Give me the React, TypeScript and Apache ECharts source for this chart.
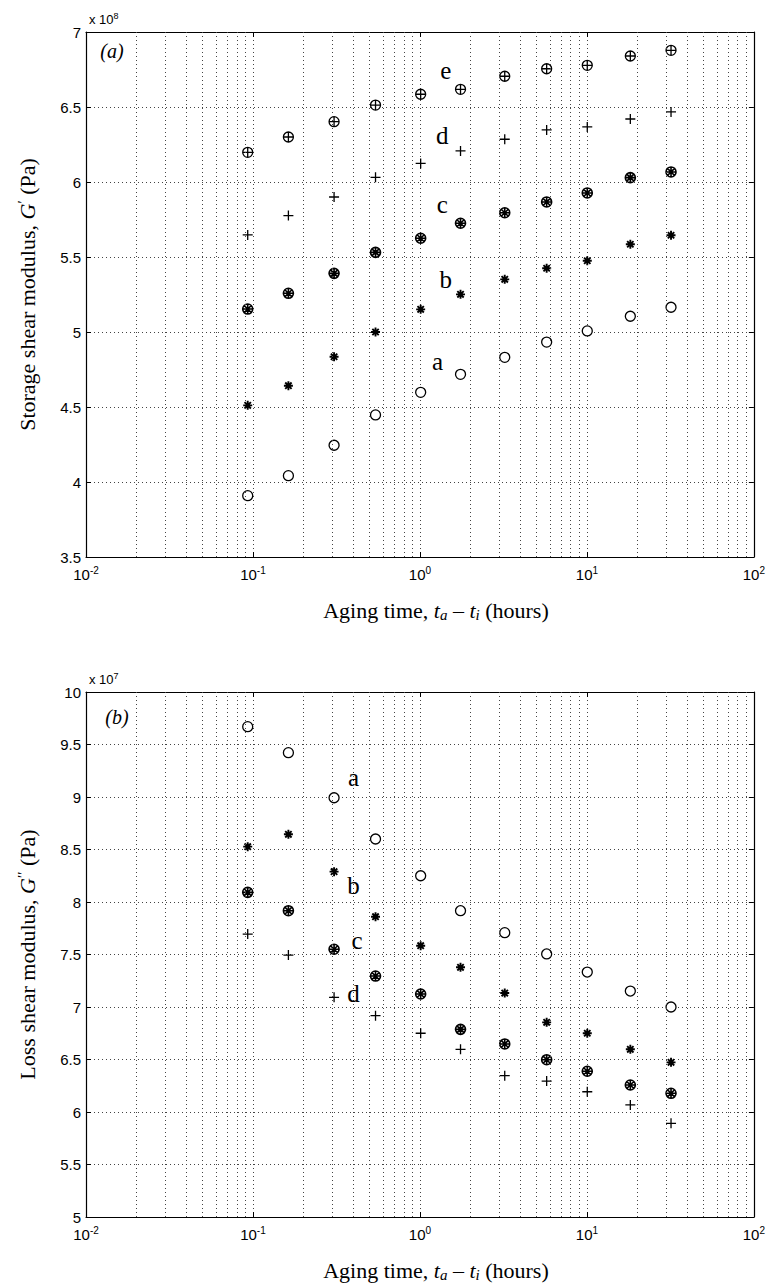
import React, { useEffect, useRef } from "react";
import * as echarts from "echarts";

// Aging time t_a - t_i (hours), shared by all series
const agingTime = [0.093, 0.163, 0.306, 0.542, 1.01, 1.75, 3.22, 5.74, 10.05, 18.2, 31.9];

// Panel (a): storage shear modulus G' (x 10^8 Pa)
const storageA = [3.909, 4.042, 4.245, 4.447, 4.598, 4.718, 4.831, 4.933, 5.007, 5.105, 5.165];
const storageB = [4.511, 4.642, 4.835, 5.0, 5.151, 5.251, 5.351, 5.425, 5.475, 5.585, 5.645];
const storageC = [5.153, 5.258, 5.391, 5.531, 5.625, 5.725, 5.795, 5.867, 5.927, 6.029, 6.067];
const storageD = [5.647, 5.776, 5.9, 6.031, 6.124, 6.207, 6.285, 6.347, 6.367, 6.42, 6.467];
const storageE = [6.198, 6.3, 6.402, 6.513, 6.585, 6.618, 6.705, 6.755, 6.778, 6.84, 6.878];

// Panel (b): loss shear modulus G'' (x 10^7 Pa)
const lossA = [9.67, 9.422, 8.993, 8.6, 8.25, 7.917, 7.708, 7.505, 7.333, 7.152, 7.0];
const lossB = [8.527, 8.645, 8.289, 7.86, 7.584, 7.378, 7.133, 6.854, 6.75, 6.597, 6.473];
const lossC = [8.092, 7.917, 7.55, 7.295, 7.124, 6.787, 6.648, 6.498, 6.388, 6.257, 6.178];
const lossD = [7.695, 7.495, 7.092, 6.917, 6.75, 6.597, 6.346, 6.295, 6.193, 6.067, 5.892];

// Curve letters placed in data coordinates
const storageLetters: [number, number, string][] = [
  [1.43, 6.742, "e"],
  [1.36, 6.313, "d"],
  [1.36, 5.853, "c"],
  [1.43, 5.347, "b"],
  [1.275, 4.802, "a"],
];
const lossLetters: [number, number, string][] = [
  [0.4, 9.188, "a"],
  [0.4, 8.155, "b"],
  [0.42, 7.638, "c"],
  [0.4, 7.13, "d"],
];

// Axis ranges / ticks
const xRange = [0.01, 100];
const storageRange = [3.5, 7];
const lossRange = [5, 10];
const yStep = 0.5;
const minorTimes = [
  0.02, 0.03, 0.04, 0.05, 0.06, 0.07, 0.08, 0.09,
  0.2, 0.3, 0.4, 0.5, 0.6, 0.7, 0.8, 0.9,
  2, 3, 4, 5, 6, 7, 8, 9,
  20, 30, 40, 50, 60, 70, 80, 90,
];

const SANS = "Liberation Sans";
const SERIF = "Liberation Serif";

const P_CIRCLE = "path://M5,0A5,5,0,1,1,-5,0A5,5,0,1,1,5,0Z";
const P_STAR = "path://M0,-5L0,5M-5,0L5,0M-3.54,-3.54L3.54,3.54M-3.54,3.54L3.54,-3.54";
const P_CSTAR =
  "path://M5,0A5,5,0,1,1,-5,0A5,5,0,1,1,5,0ZM0,-5L0,5M-5,0L5,0M-3.54,-3.54L3.54,3.54M-3.54,3.54L3.54,-3.54";
const P_PLUS = "path://M0,-5L0,5M-5,0L5,0";
const P_CPLUS = "path://M5,0A5,5,0,1,1,-5,0A5,5,0,1,1,5,0ZM0,-5L0,5M-5,0L5,0";

const dotted = { color: "#444", type: [1, 3] as any, width: 1 };

function xAxes(gridIndex: number) {
  const common = {
    gridIndex,
    type: "log" as const,
    logBase: 10,
    min: xRange[0],
    max: xRange[1],
    axisLine: { show: true, onZero: false, lineStyle: { color: "#000", width: 1.2 } },
    axisTick: { show: true, inside: true, length: 5, lineStyle: { color: "#000" } },
  };
  return [
    {
      ...common,
      position: "bottom",
      axisLabel: {
        color: "#000",
        margin: 8,
        formatter: (v: number) => `{b|10}{s|${Math.round(Math.log10(v))}}`,
        rich: {
          b: { fontSize: 15, fontFamily: SANS, color: "#000" },
          s: { fontSize: 10, fontFamily: SANS, color: "#000", verticalAlign: "top", padding: [0, 0, 9, 0] },
        },
      },
      splitLine: { show: true, lineStyle: dotted },
    },
    {
      ...common,
      position: "top",
      axisLabel: { show: false },
      splitLine: { show: false },
    },
  ];
}

function yAxes(gridIndex: number, range: number[]) {
  const common = {
    gridIndex,
    type: "value" as const,
    min: range[0],
    max: range[1],
    interval: yStep,
    axisLine: { show: true, onZero: false, lineStyle: { color: "#000", width: 1.2 } },
    axisTick: { show: true, inside: true, length: 5, lineStyle: { color: "#000" } },
  };
  return [
    {
      ...common,
      position: "left",
      axisLabel: { color: "#000", fontSize: 15, fontFamily: SANS, margin: 5 },
      splitLine: { show: true, lineStyle: dotted },
    },
    {
      ...common,
      position: "right",
      axisLabel: { show: false },
      splitLine: { show: false },
    },
  ];
}

function pts(values: number[]) {
  return agingTime.map((t, i) => [t, values[i]]);
}

function marker(
  axis: number,
  values: number[],
  symbol: string,
  size: number,
  lineWidth: number,
  extra: any = {}
) {
  return {
    type: "scatter",
    xAxisIndex: axis,
    yAxisIndex: axis,
    data: pts(values),
    symbol,
    symbolSize: size,
    silent: true,
    itemStyle: { color: "#fff", borderColor: "#000", borderWidth: lineWidth, opacity: 1 },
    z: 4,
    ...extra,
  };
}

function minorLines() {
  return {
    markLine: {
      silent: true,
      symbol: ["none", "none"],
      label: { show: false },
      lineStyle: dotted,
      data: minorTimes.map((v) => ({ xAxis: v })),
    },
  };
}

function letters(axis: number, items: [number, number, string][]) {
  return {
    type: "scatter",
    xAxisIndex: axis,
    yAxisIndex: axis,
    data: items.map((d) => [d[0], d[1], d[2]]),
    symbolSize: 1,
    silent: true,
    itemStyle: { color: "#fff", opacity: 1, borderWidth: 0 },
    label: {
      show: true,
      position: "inside",
      formatter: (p: any) => p.data[2],
      fontFamily: SERIF,
      fontSize: 25,
      color: "#000",
      opacity: 1,
      textBorderWidth: 0,
      textBorderColor: "transparent",
    },
    z: 5,
  };
}

const serifRich = {
  n: { fontFamily: SERIF, fontSize: 22, color: "#000", lineHeight: 24 },
  i: { fontFamily: SERIF, fontSize: 22, fontStyle: "italic", color: "#000", lineHeight: 24 },
  sub: { fontFamily: SERIF, fontSize: 15, fontStyle: "italic", color: "#000", lineHeight: 15, verticalAlign: "bottom", padding: [13, 0, 0, 0] },
  sup: { fontFamily: SERIF, fontSize: 15, color: "#000", lineHeight: 15, verticalAlign: "top", padding: [0, 0, 10, 0] },
};

const sansRich = {
  n: { fontFamily: SANS, fontSize: 13, color: "#000" },
  s: { fontFamily: SANS, fontSize: 9, color: "#000", verticalAlign: "top", padding: [0, 0, 7, 0] },
};

function text(x: number, y: number, t: string, rich: any, align = "center", rotation?: number) {
  const el: any = {
    type: "text",
    x,
    y,
    silent: true,
    style: { text: t, rich, align, verticalAlign: "middle" },
  };
  if (rotation !== undefined) el.rotation = rotation;
  return el;
}

export default function App() {
  const ref = useRef<HTMLDivElement>(null);
  useEffect(() => {
    if (!ref.current) return;
    const chart = echarts.init(ref.current, undefined, { renderer: "svg" });
    const option: any = {
      animation: false,
      backgroundColor: "#fff",
      grid: [
        { left: 86, top: 32, width: 671, height: 525 },
        { left: 86, top: 692, width: 671, height: 525 },
      ],
      xAxis: [...xAxes(0), ...xAxes(1)],
      yAxis: [...yAxes(0, storageRange), ...yAxes(1, lossRange)],
      series: [
        marker(0, storageA, P_CIRCLE, 10, 1.3, minorLines()),
        marker(0, storageB, P_STAR, 9, 1.9),
        marker(0, storageC, P_CSTAR, 10, 1.6),
        marker(0, storageD, P_PLUS, 10, 1.3),
        marker(0, storageE, P_CPLUS, 10, 1.3),
        letters(0, storageLetters),
        marker(2, lossA, P_CIRCLE, 10, 1.3, minorLines()),
        marker(2, lossB, P_STAR, 9, 1.9),
        marker(2, lossC, P_CSTAR, 10, 1.6),
        marker(2, lossD, P_PLUS, 10, 1.3),
        letters(2, lossLetters),
      ],
      graphic: [
        text(89, 19, "{n|x 10}{s|8}", sansRich, "left"),
        text(89, 679, "{n|x 10}{s|7}", sansRich, "left"),
        text(112, 51, "{i|(a)}", { i: { ...serifRich.i, fontSize: 20 } }),
        text(117, 717, "{i|(b)}", { i: { ...serifRich.i, fontSize: 20 } }),
        text(436, 610, "{n|Aging time, }{i|t}{sub|a}{n| \u2013 }{i|t}{sub|i}{n| (hours)}", serifRich),
        text(436, 1270, "{n|Aging time, }{i|t}{sub|a}{n| \u2013 }{i|t}{sub|i}{n| (hours)}", serifRich),
        text(27, 294.5, "{n|Storage shear modulus, }{i|G}{sup|\u2032}{n| (Pa)}", serifRich, "center", Math.PI / 2),
        text(27, 954.5, "{n|Loss shear modulus, }{i|G}{sup|\u2032\u2032}{n| (Pa)}", serifRich, "center", Math.PI / 2),
      ],
    };
    chart.setOption(option);
    return () => chart.dispose();
  }, []);
  return (
    <div
      ref={ref}
      style={{ position: "absolute", left: 0, top: 0, width: 768, height: 1285, background: "#fff" }}
    />
  );
}
